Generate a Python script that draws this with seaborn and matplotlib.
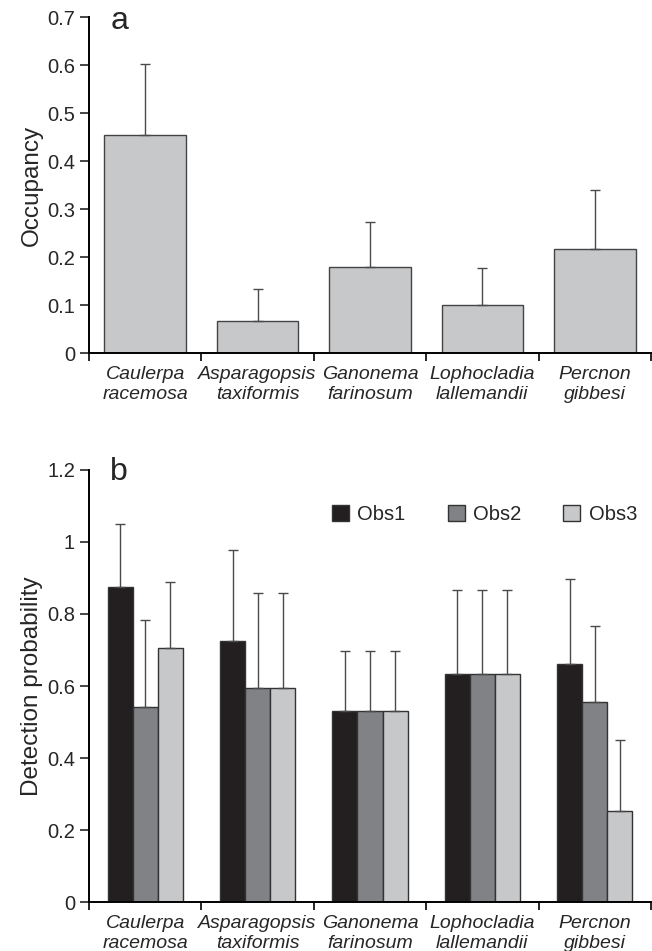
import numpy as np
import pandas as pd
import matplotlib
matplotlib.use("Agg")
import matplotlib.pyplot as plt
import seaborn as sns

# ---------------- data ----------------
species = ["Caulerpa\nracemosa", "Asparagopsis\ntaxiformis", "Ganonema\nfarinosum",
           "Lophocladia\nlallemandii", "Percnon\ngibbesi"]
occupancy = [0.455, 0.067, 0.180, 0.101, 0.218]
occupancy_upper = [0.602, 0.133, 0.274, 0.178, 0.341]

observers = ["Obs1", "Obs2", "Obs3"]
det_obs1 = [0.875, 0.726, 0.531, 0.632, 0.661]
det_obs2 = [0.541, 0.595, 0.531, 0.632, 0.556]
det_obs3 = [0.705, 0.595, 0.531, 0.632, 0.252]
det_upper_obs1 = [1.051, 0.978, 0.698, 0.867, 0.897]
det_upper_obs2 = [0.782, 0.858, 0.698, 0.867, 0.766]
det_upper_obs3 = [0.889, 0.858, 0.698, 0.867, 0.449]

occ_ticks = [0, 0.1, 0.2, 0.3, 0.4, 0.5, 0.6, 0.7]
occ_ticklabels = ["0", "0.1", "0.2", "0.3", "0.4", "0.5", "0.6", "0.7"]
det_ticks = [0, 0.2, 0.4, 0.6, 0.8, 1.0, 1.2]
det_ticklabels = ["0", "0.2", "0.4", "0.6", "0.8", "1", "1.2"]

# ---------------- style ----------------
sns.set_style("ticks")
plt.rcParams["font.family"] = ["Liberation Sans", "DejaVu Sans"]
plt.rcParams["axes.linewidth"] = 1.4

c_obs = {"Obs1": "#231f20", "Obs2": "#808285", "Obs3": "#c7c8ca"}
c_occ = "#c7c8ca"
err_col = "#4a4a4a"

fig = plt.figure(figsize=(6.52, 9.51), dpi=100)
ax_a = fig.add_axes([0.1365, 0.6285, 0.862, 0.3533])
ax_b = fig.add_axes([0.1365, 0.0515, 0.862, 0.4543])

# ---------------- panel a ----------------
df_a = pd.DataFrame({"species": species, "occ": occupancy, "up": occupancy_upper})
sns.barplot(data=df_a, x="species", y="occ", color=c_occ, width=0.725,
            edgecolor="#444444", linewidth=1.0, saturation=1, ax=ax_a, errorbar=None)
for bar, v, u in zip(ax_a.containers[0], df_a["occ"], df_a["up"]):
    xc = bar.get_x() + bar.get_width() / 2
    ax_a.errorbar(xc, v, yerr=[[0], [u - v]], fmt="none", ecolor=err_col,
                  elinewidth=1.0, capsize=3.3, capthick=1.0, zorder=1)
ax_a.set_ylim(0, 0.7)
ax_a.set_yticks(occ_ticks)
ax_a.set_yticklabels(occ_ticklabels)
ax_a.set_ylabel("Occupancy", fontsize=17.5, labelpad=3)
ax_a.text(0.038, 0.964, "a", transform=ax_a.transAxes, fontsize=23, va="baseline", ha="left")

# ---------------- panel b ----------------
df_b = pd.DataFrame({
    "species": species * 3,
    "observer": [o for o in observers for _ in species],
    "det": det_obs1 + det_obs2 + det_obs3,
    "up": det_upper_obs1 + det_upper_obs2 + det_upper_obs3,
})
sns.barplot(data=df_b, x="species", y="det", hue="observer", palette=c_obs,
            width=0.668, gap=0, edgecolor="#333333", linewidth=1.0, saturation=1,
            ax=ax_b, errorbar=None, legend=True)
for j, obs in enumerate(observers):
    sub = df_b[df_b["observer"] == obs]
    for bar, v, u in zip(ax_b.containers[j], sub["det"], sub["up"]):
        xc = bar.get_x() + bar.get_width() / 2
        ax_b.errorbar(xc, v, yerr=[[0], [u - v]], fmt="none", ecolor=err_col,
                      elinewidth=1.0, capsize=3.3, capthick=1.0, zorder=1)
ax_b.set_ylim(0, 1.2)
ax_b.set_yticks(det_ticks)
ax_b.set_yticklabels(det_ticklabels)
ax_b.set_ylabel("Detection probability", fontsize=17.5, labelpad=3)
ax_b.text(0.038, 0.977, "b", transform=ax_b.transAxes, fontsize=23, va="baseline", ha="left")
leg = ax_b.legend(loc="center right", bbox_to_anchor=(1.0, 0.8965), ncol=3, frameon=False,
                  fontsize=14.5, handlelength=0.85, handleheight=0.8, handletextpad=0.4,
                  columnspacing=2.1, borderaxespad=0.3)
for h in leg.legend_handles:
    h.set_edgecolor("#333333")
    h.set_linewidth(1.0)

# ---------------- common axes styling ----------------
for ax in (ax_a, ax_b):
    ax.set_xlim(-0.5, len(species) - 0.5)
    ax.set_xlabel("")
    sns.despine(ax=ax)
    ax.set_xticks(range(len(species)))
    ax.set_xticklabels(species, fontsize=14, style="italic", linespacing=1.25)
    ax.set_xticks(np.arange(-0.5, len(species), 1.0), minor=True)
    ax.tick_params(axis="x", which="major", length=0, pad=9)
    ax.tick_params(axis="x", which="minor", length=6, width=1.2, color="black", direction="out")
    ax.tick_params(axis="y", which="major", length=6.5, width=1.2, pad=3.5, labelsize=14.5,
                   direction="out")
    for sp in ax.spines.values():
        sp.set_color("black")

fig.savefig("out.png", dpi=100, facecolor="white")
